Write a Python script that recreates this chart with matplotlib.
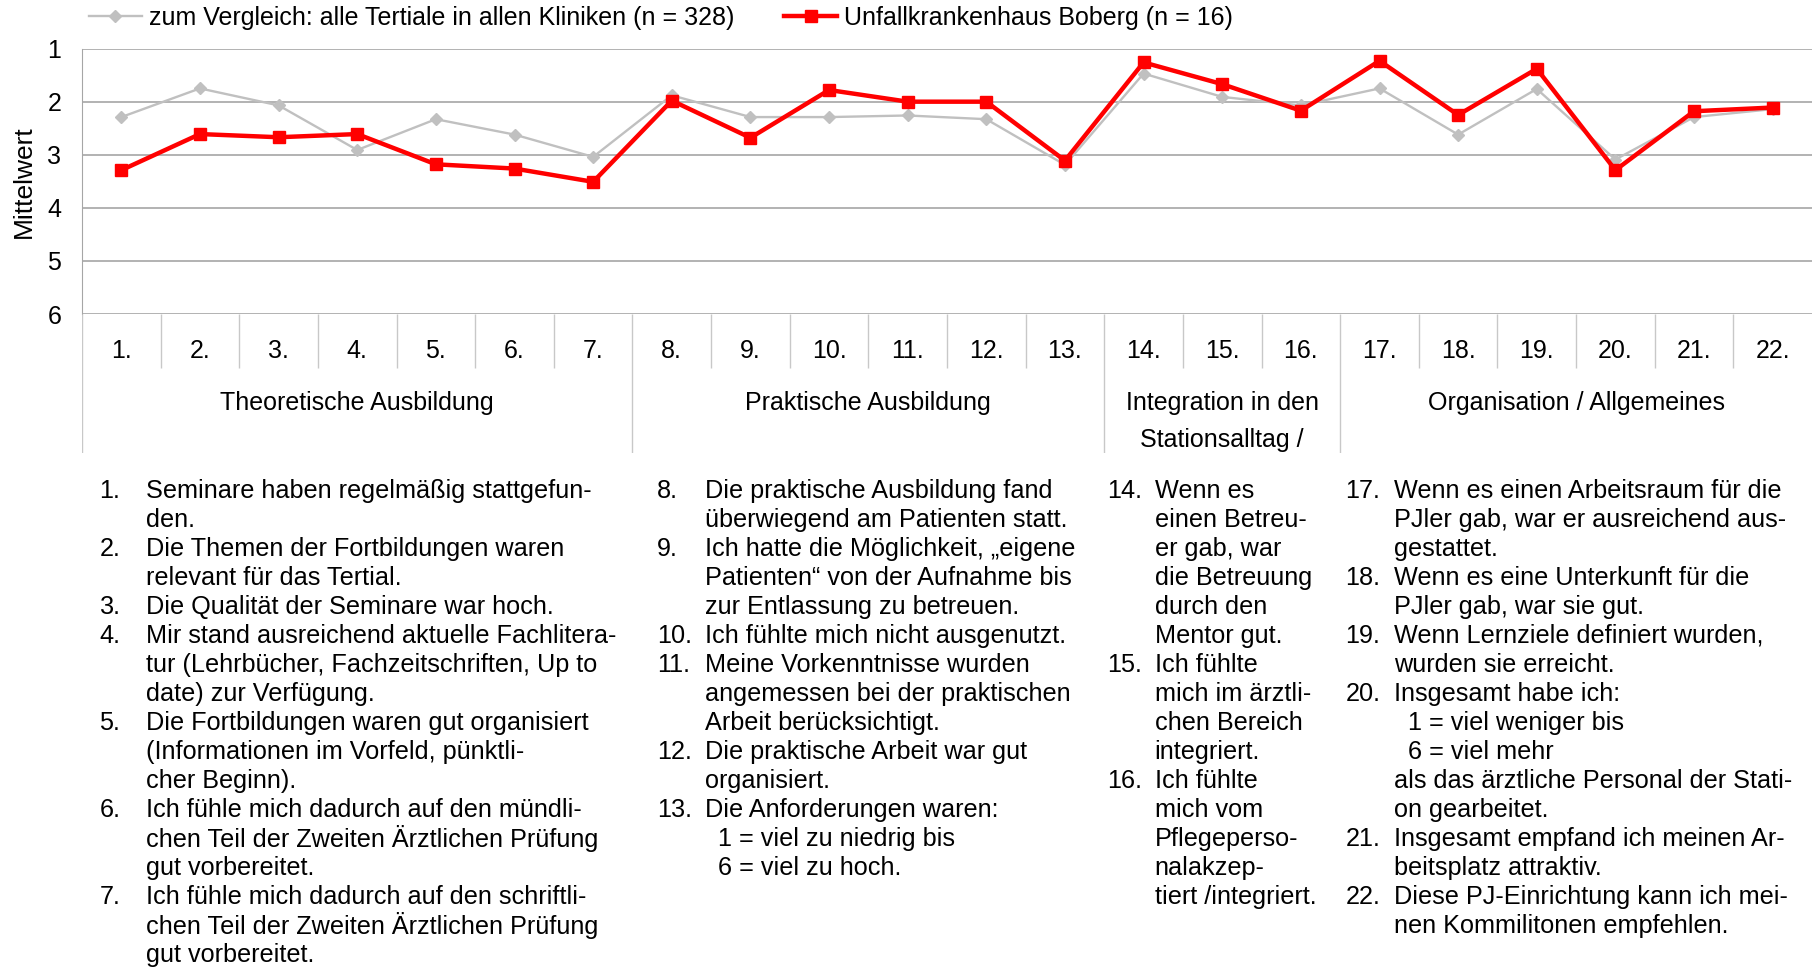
import matplotlib
matplotlib.use('Agg')
import matplotlib.pyplot as plt

plt.rcParams['font.family'] = ['Liberation Sans', 'DejaVu Sans']

# --- data ---
items = ['1.', '2.', '3.', '4.', '5.', '6.', '7.', '8.', '9.', '10.', '11.',
         '12.', '13.', '14.', '15.', '16.', '17.', '18.', '19.', '20.', '21.', '22.']
alle_kliniken = [2.29, 1.75, 2.07, 2.91, 2.33, 2.62, 3.04, 1.88, 2.29, 2.29, 2.26,
                 2.33, 3.19, 1.47, 1.91, 2.07, 1.75, 2.62, 1.76, 3.09, 2.29, 2.14]
boberg = [3.29, 2.61, 2.67, 2.61, 3.18, 3.26, 3.51, 1.98, 2.68, 1.78, 2.0,
          2.0, 3.11, 1.26, 1.67, 2.17, 1.23, 2.25, 1.38, 3.29, 2.18, 2.11]
label_alle = 'zum Vergleich: alle Tertiale in allen Kliniken (n = 328)'
label_boberg = 'Unfallkrankenhaus Boberg (n = 16)'

groups = ['Theoretische Ausbildung', 'Praktische Ausbildung',
          'Integration in den\nStationsalltag /', 'Organisation / Allgemeines']
group_sizes = [7, 6, 3, 6]

col1 = [('1.', 'Seminare haben regelmäßig stattgefun-'), ('', 'den.'),
        ('2.', 'Die Themen der Fortbildungen waren'), ('', 'relevant für das Tertial.'),
        ('3.', 'Die Qualität der Seminare war hoch.'),
        ('4.', 'Mir stand ausreichend aktuelle Fachlitera-'),
        ('', 'tur (Lehrbücher, Fachzeitschriften, Up to'), ('', 'date) zur Verfügung.'),
        ('5.', 'Die Fortbildungen waren gut organisiert'),
        ('', '(Informationen im Vorfeld, pünktli-'), ('', 'cher Beginn).'),
        ('6.', 'Ich fühle mich dadurch auf den mündli-'),
        ('', 'chen Teil der Zweiten Ärztlichen Prüfung'), ('', 'gut vorbereitet.'),
        ('7.', 'Ich fühle mich dadurch auf den schriftli-'),
        ('', 'chen Teil der Zweiten Ärztlichen Prüfung'), ('', 'gut vorbereitet.')]
col2 = [('8.', 'Die praktische Ausbildung fand'), ('', 'überwiegend am Patienten statt.'),
        ('9.', 'Ich hatte die Möglichkeit, „eigene'), ('', 'Patienten“ von der Aufnahme bis'),
        ('', 'zur Entlassung zu betreuen.'),
        ('10.', 'Ich fühlte mich nicht ausgenutzt.'),
        ('11.', 'Meine Vorkenntnisse wurden'), ('', 'angemessen bei der praktischen'),
        ('', 'Arbeit berücksichtigt.'),
        ('12.', 'Die praktische Arbeit war gut'), ('', 'organisiert.'),
        ('13.', 'Die Anforderungen waren:'), ('>', '1 = viel zu niedrig bis'),
        ('>', '6 = viel zu hoch.')]
col3 = [('14.', 'Wenn es'), ('', 'einen Betreu-'), ('', 'er gab, war'), ('', 'die Betreuung'),
        ('', 'durch den'), ('', 'Mentor gut.'),
        ('15.', 'Ich fühlte'), ('', 'mich im ärztli-'), ('', 'chen Bereich'), ('', 'integriert.'),
        ('16.', 'Ich fühlte'), ('', 'mich vom'), ('', 'Pflegeperso-'), ('', 'nalakzep-'),
        ('', 'tiert /integriert.')]
col4 = [('17.', 'Wenn es einen Arbeitsraum für die'), ('', 'PJler gab, war er ausreichend aus-'),
        ('', 'gestattet.'),
        ('18.', 'Wenn es eine Unterkunft für die'), ('', 'PJler gab, war sie gut.'),
        ('19.', 'Wenn Lernziele definiert wurden,'), ('', 'wurden sie erreicht.'),
        ('20.', 'Insgesamt habe ich:'), ('>', '1 = viel weniger bis'), ('>', '6 = viel mehr'),
        ('', 'als das ärztliche Personal der Stati-'), ('', 'on gearbeitet.'),
        ('21.', 'Insgesamt empfand ich meinen Ar-'), ('', 'beitsplatz attraktiv.'),
        ('22.', 'Diese PJ-Einrichtung kann ich mei-'), ('', 'nen Kommilitonen empfehlen.')]

W, H = 1814, 967
fig = plt.figure(figsize=(W / 100, H / 100), dpi=100)

def fx(px):
    return px / W

def fy(py):
    return 1 - py / H

# main chart
left, right, top, bottom = 82, 1812, 48.6, 314
ax = fig.add_axes([fx(left), fy(bottom), fx(right - left), (bottom - top) / H])
x = range(len(items))
ax.plot(x, alle_kliniken, color='#c0c0c0', lw=1.7, marker='D', ms=6.5, label=label_alle)
ax.plot(x, boberg, color='#ff0000', lw=3.2, marker='s', ms=8, label=label_boberg)
ax.set_xlim(-0.5, len(items) - 0.5)
ax.set_ylim(6, 1)
ax.set_yticks([1, 2, 3, 4, 5, 6])
ax.set_xticks([])
ax.tick_params(axis='y', length=0, pad=15, labelsize=18)
ax.grid(axis='y', color='#a6a6a6', lw=1.2)
ax.set_axisbelow(True)
for s in ['top', 'right', 'bottom']:
    ax.spines[s].set_visible(False)
ax.spines['left'].set_color('#a6a6a6')
ax.set_ylabel('Mittelwert', fontsize=19, labelpad=8)

ax.legend(loc='center left', bbox_to_anchor=(fx(89), fy(18)), bbox_transform=fig.transFigure,
          ncol=2, frameon=False, fontsize=18, handlelength=2.1, handletextpad=0.3,
          columnspacing=2.0, borderpad=0, borderaxespad=0)

# category table under the chart
tb = 453
axt = fig.add_axes([fx(left), fy(tb), fx(right - left), (tb - bottom) / H])
axt.set_xlim(-0.5, len(items) - 0.5)
axt.set_ylim(tb, bottom)
axt.axis('off')
bounds = [-0.5]
for g in group_sizes:
    bounds.append(bounds[-1] + g)
for i in range(len(items)):
    axt.text(i, 351, items[i], ha='center', va='center', fontsize=18)
    if i > 0 and (i - 0.5) not in bounds:
        axt.vlines(i - 0.5, bottom, 368, color='#c8c8c8', lw=1)
for b in bounds[:-1]:
    axt.vlines(b, bottom, tb, color='#c8c8c8', lw=1)
for gi, name in enumerate(groups):
    cx = (bounds[gi] + bounds[gi + 1]) / 2
    for li, line in enumerate(name.split('\n')):
        axt.text(cx, 403 + li * 37, line, ha='center', va='center', fontsize=18)

# explanation columns
y0, dy = 490.6, 29.0
columns = [(col1, 99.5, 145.8, 160), (col2, 657, 704.6, 718.5),
           (col3, 1107, 1154.7, 1170), (col4, 1345.6, 1394, 1408)]
for lines, xn, xt, xi in columns:
    for i, (num, txt) in enumerate(lines):
        yy = fy(y0 + i * dy)
        if num == '>':
            fig.text(fx(xi), yy, txt, ha='left', va='center', fontsize=18.2)
        else:
            if num:
                fig.text(fx(xn), yy, num, ha='left', va='center', fontsize=18.2)
            fig.text(fx(xt), yy, txt, ha='left', va='center', fontsize=18.2)

fig.savefig('out.png', dpi=100)
